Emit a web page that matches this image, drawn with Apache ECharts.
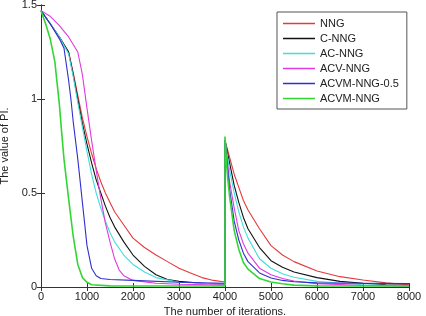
<!DOCTYPE html>
<html>
<head>
<meta charset="utf-8">
<script src="https://cdn.jsdelivr.net/npm/echarts@6/dist/echarts.min.js"></script>
<style>
  html, body { margin: 0; padding: 0; background: #fff; }
  #chart { width: 426px; height: 316px; }
</style>
</head>
<body>
<div id="chart"></div>
<script>
// series names (legend order)
const names = ["NNG", "C-NNG", "AC-NNG", "ACV-NNG", "ACVM-NNG-0.5", "ACVM-NNG"];
const colors = ["#e53a3a", "#111111", "#3fdedb", "#df3bdf", "#2f2fcf", "#33d633"];

// [iteration, PI] pairs
const nng = [[0,1.47],[200,1.40],[400,1.33],[600,1.25],[700,1.14],[800,1.02],[900,0.90],[1000,0.80],[1100,0.71],[1200,0.63],[1300,0.56],[1400,0.50],[1500,0.45],[1600,0.40],[1800,0.33],[2000,0.26],[2250,0.21],[2500,0.17],[2750,0.135],[3000,0.10],[3250,0.075],[3500,0.05],[3750,0.035],[4000,0.027],
  [4000,0.78],[4100,0.69],[4200,0.60],[4300,0.53],[4400,0.46],[4500,0.41],[4750,0.31],[5000,0.22],[5250,0.17],[5500,0.135],[6000,0.085],[6500,0.055],[7000,0.037],[7500,0.022],[8000,0.012]];
const cNng = [[0,1.47],[200,1.40],[400,1.33],[600,1.25],[700,1.13],[800,1.00],[900,0.87],[1000,0.76],[1100,0.66],[1200,0.57],[1300,0.50],[1400,0.43],[1500,0.37],[1600,0.32],[1800,0.24],[2000,0.17],[2250,0.11],[2500,0.065],[2750,0.04],[3000,0.03],[3500,0.02],[4000,0.015],
  [4000,0.78],[4100,0.66],[4200,0.54],[4300,0.45],[4400,0.37],[4500,0.31],[4750,0.21],[5000,0.14],[5250,0.105],[5500,0.08],[6000,0.05],[6500,0.03],[7000,0.02],[7500,0.012],[8000,0.008]];
const acNng = [[0,1.47],[200,1.40],[400,1.33],[600,1.24],[700,1.12],[800,0.98],[900,0.85],[1000,0.72],[1100,0.60],[1200,0.50],[1300,0.42],[1400,0.35],[1500,0.29],[1600,0.24],[1800,0.17],[2000,0.12],[2250,0.08],[2500,0.05],[3000,0.025],[4000,0.015],
  [4000,0.78],[4100,0.62],[4200,0.50],[4300,0.40],[4400,0.32],[4500,0.26],[4750,0.15],[5000,0.10],[5250,0.07],[5500,0.052],[6000,0.03],[6500,0.02],[7000,0.012],[8000,0.006]];
const acvNng = [[0,1.47],[200,1.44],[400,1.39],[600,1.33],[800,1.25],[900,1.13],[1000,0.95],[1100,0.78],[1200,0.62],[1300,0.47],[1400,0.34],[1500,0.24],[1600,0.15],[1700,0.09],[1800,0.06],[2000,0.035],[2500,0.02],[3000,0.015],[4000,0.01],
  [4000,0.78],[4100,0.56],[4200,0.42],[4300,0.30],[4400,0.23],[4500,0.18],[4750,0.10],[5000,0.065],[5250,0.045],[5500,0.032],[6000,0.018],[7000,0.008],[8000,0.004]];
const acvmNng05 = [[0,1.47],[200,1.40],[400,1.32],[500,1.27],[600,1.10],[650,1.00],[700,0.88],[800,0.68],[900,0.45],[1000,0.22],[1100,0.10],[1200,0.06],[1300,0.045],[1500,0.04],[2000,0.035],[3000,0.025],[4000,0.02],
  [4000,0.78],[4100,0.52],[4200,0.35],[4300,0.25],[4400,0.18],[4500,0.135],[4750,0.075],[5000,0.048],[5250,0.035],[5500,0.028],[6000,0.022],[7000,0.02],[8000,0.018]];
const acvmNng = [[0,1.47],[100,1.40],[200,1.32],[300,1.20],[400,0.97],[450,0.82],[500,0.68],[600,0.47],[700,0.27],[800,0.12],[900,0.05],[1000,0.025],[1100,0.012],[1500,0.006],[4000,0.005],
  [4000,0.80],[4050,0.60],[4100,0.48],[4200,0.30],[4300,0.20],[4400,0.13],[4500,0.095],[4750,0.045],[5000,0.027],[5250,0.017],[5500,0.01],[6000,0.006],[8000,0.005]];
const seriesData = [nng, cNng, acNng, acvNng, acvmNng05, acvmNng];

const font = "Liberation Sans, Arial, sans-serif";
const chart = echarts.init(document.getElementById("chart"));

const plainNum = (v) => String(v);

const option = {
  animation: false,
  backgroundColor: "#fff",
  grid: { left: 41, right: 17, top: 5, bottom: 29, outerBoundsMode: "none" },
  legend: {
    orient: "vertical",
    left: 277, top: 12,
    padding: [5, 8, 4, 6],
    icon: "rect",
    itemWidth: 32, itemHeight: 1.5, itemGap: 2,
    backgroundColor: "#fff",
    borderColor: "#555", borderWidth: 1,
    textStyle: { fontFamily: font, fontSize: 11, color: "#222", lineHeight: 13 },
    data: names
  },
  xAxis: [
    {
      type: "value", min: 0, max: 8000, interval: 1000,
      name: "The number of iterations.", nameLocation: "middle", nameGap: 18,
      nameTextStyle: { fontFamily: font, fontSize: 11, color: "#222" },
      axisLine: { lineStyle: { color: "#333" } },
      axisTick: { inside: true, length: 4, lineStyle: { color: "#333" } },
      axisLabel: { fontFamily: font, fontSize: 11, color: "#222", margin: 4, formatter: plainNum },
      splitLine: { show: false }
    },
    {
      type: "value", min: 0, max: 8000, interval: 1000, position: "top",
      axisLine: { lineStyle: { color: "#333" } },
      axisTick: { inside: true, length: 4, lineStyle: { color: "#333" } },
      axisLabel: { show: false },
      splitLine: { show: false }
    }
  ],
  yAxis: [
    {
      type: "value", min: 0, max: 1.5, interval: 0.5,
      name: "The value of PI.", nameLocation: "middle", nameGap: 19,
      nameTextStyle: { fontFamily: font, fontSize: 11, color: "#222" },
      axisLine: { show: true, lineStyle: { color: "#333" } },
      axisTick: { show: true, inside: true, length: 4, lineStyle: { color: "#333" } },
      axisLabel: { fontFamily: font, fontSize: 11, color: "#222", margin: 4, formatter: plainNum },
      splitLine: { show: false }
    },
    {
      type: "value", min: 0, max: 1.5, interval: 0.5, position: "right",
      axisLine: { show: true, lineStyle: { color: "#333" } },
      axisTick: { show: true, inside: true, length: 4, lineStyle: { color: "#333" } },
      axisLabel: { show: false },
      splitLine: { show: false }
    }
  ],
  series: names.map((n, i) => ({
    name: n,
    type: "line",
    data: seriesData[i],
    symbol: "none",
    smooth: false,
    color: colors[i],
    lineStyle: { width: i === 5 ? 1.6 : 1.1, color: colors[i] }
  }))
};

chart.setOption(option);
</script>
</body>
</html>
